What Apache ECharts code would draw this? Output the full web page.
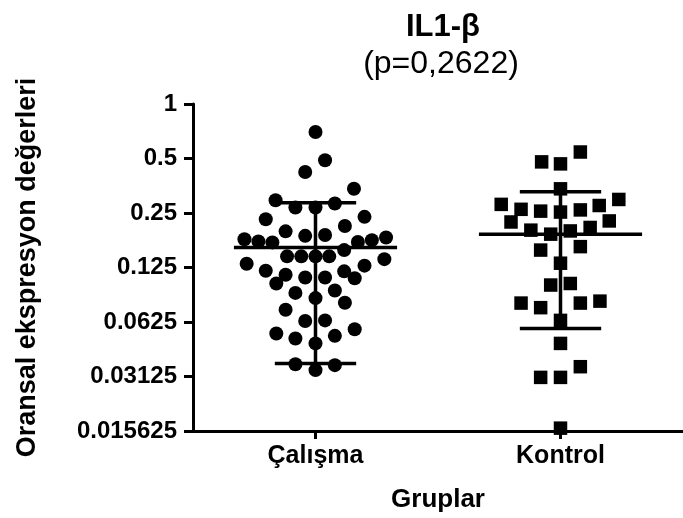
<!DOCTYPE html>
<html>
<head>
<meta charset="utf-8">
<script src="https://cdn.jsdelivr.net/npm/echarts@6/dist/echarts.min.js"></script>
<style>
html,body{margin:0;padding:0;background:#fff;}
#chart{width:683px;height:518px;}
</style>
</head>
<body>
<div id="chart"></div>
<script>
// ---- data ----
const categories = ['Çalışma', 'Kontrol'];
const yTickLabels = ['0.015625', '0.03125', '0.0625', '0.125', '0.25', '0.5', '1'];

const calismaValues = [
  0.70, 0.489, 0.421, 0.340, 0.294, 0.268, 0.268, 0.282, 0.231, 0.238,
  0.198, 0.212, 0.187, 0.189, 0.179, 0.174, 0.172, 0.173, 0.177, 0.183,
  0.156, 0.144, 0.144, 0.144, 0.144, 0.139, 0.131, 0.120, 0.114, 0.102,
  0.110, 0.110, 0.119, 0.109, 0.128, 0.0905, 0.0847, 0.0933, 0.0798, 0.0731,
  0.0633, 0.0638, 0.0540, 0.0507, 0.0476, 0.0524, 0.0570, 0.0365, 0.0339, 0.0361
];
const calismaJitter = [
  0, 0.039, -0.042, 0.157, -0.163, -0.082, 0, 0.079, -0.203, 0.200,
  -0.122, 0.120, -0.042, 0.039, -0.290, -0.233, -0.176, 0.173, 0.230, 0.288,
  0.117, -0.116, -0.058, 0, 0.056, 0.281, -0.281, -0.203, -0.122, -0.160,
  -0.042, 0.039, 0.117, 0.160, 0.200, -0.082, 0, 0.079, 0.120, -0.122,
  -0.042, 0.039, -0.160, -0.082, 0, 0.079, 0.160, -0.082, 0, 0.079
];

const kontrolValues = [
  0.543, 0.479, 0.467, 0.340, 0.297, 0.279, 0.262, 0.256, 0.253, 0.260,
  0.275, 0.223, 0.226, 0.201, 0.191, 0.199, 0.208, 0.156, 0.163, 0.132,
  0.100, 0.102, 0.0795, 0.0750, 0.0795, 0.0815, 0.0638, 0.0476, 0.0354, 0.0309,
  0.0309, 0.0162
];
const kontrolJitter = [
  0.081, -0.077, 0, 0, 0.238, -0.242, -0.161, -0.081, 0, 0.081,
  0.158, -0.202, 0.199, -0.121, -0.040, 0.040, 0.121, -0.081, 0.081, 0,
  -0.040, 0.040, -0.161, -0.081, 0.081, 0.161, 0, 0, 0.081, -0.081,
  0, 0
];

const meanValues = [0.161, 0.191];
const sdLower = [0.0369, 0.0575];
const sdUpper = [0.285, 0.328];

const titleText = 'IL1-β';
const subtitleText = '(p=0,2622)';
const xAxisName = 'Gruplar';
const yAxisName = 'Oransal ekspresyon değerleri';

// ---- build ----
const FONT = '"Liberation Sans", Arial, Helvetica, sans-serif';
const chart = echarts.init(document.getElementById('chart'), null, {renderer: 'canvas'});

const calismaData = calismaValues.map((v, i) => [1 + calismaJitter[i], v]);
const kontrolData = kontrolValues.map((v, i) => [2 + kontrolJitter[i], v]);
const summaryData = meanValues.map((m, i) => [i + 1, m, sdLower[i], sdUpper[i]]);

const option = {
  backgroundColor: '#ffffff',
  animation: false,
  title: [
    {
      text: titleText, left: 438, top: 7, textAlign: 'center',
      textStyle: {fontFamily: FONT, fontWeight: 'bold', fontSize: 31, color: '#000'}
    },
    {
      text: subtitleText, left: 436, top: 43, textAlign: 'center',
      textStyle: {fontFamily: FONT, fontWeight: 'normal', fontSize: 32, color: '#000'}
    }
  ],
  grid: {left: 193, top: 104, width: 496, height: 329, containLabel: false},
  xAxis: [
    {
      type: 'category',
      data: categories,
      boundaryGap: true,
      name: xAxisName,
      nameLocation: 'middle',
      nameGap: 56,
      nameTextStyle: {fontFamily: FONT, fontWeight: 'bold', fontSize: 26, color: '#000'},
      axisLine: {show: true, lineStyle: {color: '#000', width: 3}},
      axisTick: {show: true, alignWithLabel: true, length: 8, lineStyle: {color: '#000', width: 3}},
      axisLabel: {fontFamily: FONT, fontWeight: 'bold', fontSize: 25, color: '#000', margin: 13},
      splitLine: {show: false}
    },
    {
      type: 'value', min: 0.5, max: 2.5, show: false,
      splitLine: {show: false}
    }
  ],
  yAxis: {
    type: 'log',
    logBase: 2,
    min: 0.015625,
    max: 1,
    splitNumber: 6,
    name: yAxisName,
    nameLocation: 'middle',
    nameGap: 152,
    nameTextStyle: {fontFamily: FONT, fontWeight: 'bold', fontSize: 27, color: '#000'},
    axisLine: {show: true, lineStyle: {color: '#000', width: 3}},
    axisTick: {show: true, length: 9, lineStyle: {color: '#000', width: 3}},
    axisLabel: {
      fontFamily: FONT, fontWeight: 'bold', fontSize: 24, color: '#000', margin: 16,
      formatter: function (v) {
        const k = Math.round(Math.log2(v)) + 6;
        return yTickLabels[k] !== undefined ? yTickLabels[k] : '';
      }
    },
    splitLine: {show: false}
  },
  series: [
    {
      name: categories[0], type: 'scatter', xAxisIndex: 1,
      symbol: 'circle', symbolSize: 14,
      itemStyle: {color: '#000', opacity: 1},
      data: calismaData
    },
    {
      name: categories[1], type: 'scatter', xAxisIndex: 1,
      symbol: 'rect', symbolSize: 13.5,
      itemStyle: {color: '#000', opacity: 1},
      data: kontrolData
    },
    {
      type: 'custom', xAxisIndex: 1,
      data: summaryData,
      renderItem: function (params, api) {
        const x = api.value(0), m = api.value(1), lo = api.value(2), hi = api.value(3);
        const c = api.coord([x, m]);
        const top = api.coord([x, hi]);
        const bot = api.coord([x, lo]);
        const unit = api.size([1, 0])[0];
        const mw = 0.333 * unit, cw = 0.166 * unit;
        const style = {stroke: '#000', lineWidth: 3.5, fill: null};
        return {
          type: 'group',
          children: [
            {type: 'line', shape: {x1: c[0] - mw, y1: c[1], x2: c[0] + mw, y2: c[1]}, style: style},
            {type: 'line', shape: {x1: c[0], y1: top[1], x2: c[0], y2: bot[1]}, style: style},
            {type: 'line', shape: {x1: c[0] - cw, y1: top[1], x2: c[0] + cw, y2: top[1]}, style: style},
            {type: 'line', shape: {x1: c[0] - cw, y1: bot[1], x2: c[0] + cw, y2: bot[1]}, style: style}
          ]
        };
      }
    }
  ]
};
chart.setOption(option);
</script>
</body>
</html>
